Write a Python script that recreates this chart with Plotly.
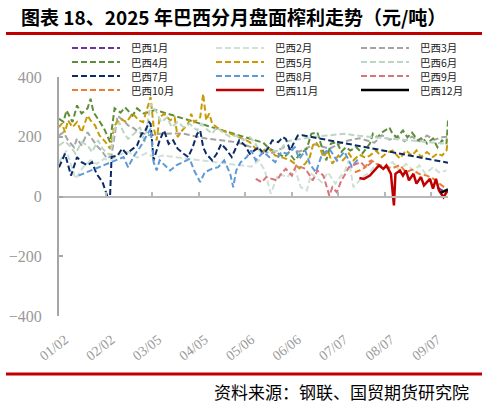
import pandas as pd
import plotly.graph_objects as go

# ---------------- data ----------------
tick_labels = ["01/02", "02/02", "03/05", "04/05", "05/06", "06/06", "07/07", "08/07", "09/07"]
series_names = ["巴西1月", "巴西2月", "巴西3月", "巴西4月", "巴西5月", "巴西6月",
                "巴西7月", "巴西8月", "巴西9月", "巴西10月", "巴西11月", "巴西12月"]

# day offsets from 2025-01-02 and margin values (元/吨)
d_jan = [252, 255, 258]
v_jan = [30, 22, 12]

d_feb = [0, 5, 11, 16, 21, 25, 30, 34, 40, 46, 52, 58, 64, 69, 128, 133, 137, 141, 146, 152, 157, 161, 165,
         168, 171, 175, 179, 184, 187, 190, 193, 196, 202, 207, 211, 215, 218, 222, 227, 231, 236, 240, 244,
         249, 253, 258]
v_feb = [115, 154, 59, 98, 121, 109, 126, 121, 140, 150, 130, 145, 130, 137, 100, 121, 87, 9, 76, 65, 93, 31, 20,
         76, 65, 48, 81, 43, 65, 81, 121, 31, 65, 81, 109, 98, 98, 115, 87, 109, 87, 104, 76,
         98, 81, 87]

d_mar = [0, 3, 6, 10, 12, 15, 19, 22, 25, 29, 32, 35, 39, 41, 43, 46, 50, 53, 56, 61, 67, 82, 98, 118, 141,
         150, 160, 170, 180, 190, 200, 210, 215, 220, 225, 230, 235, 240, 245, 250, 255, 259]
v_mar = [204, 215, 188, 165, 194, 171, 215, 194, 171, 149, 127, 137, 270, 262, 255, 238, 228, 215, 211, 204, 210,
         211, 194, 182, 144, 165, 150, 175, 160, 185, 195, 180, 205, 190, 200, 185, 200, 185, 204, 190, 198, 200]

d_apr = [0, 3, 5, 9, 12, 15, 19, 21, 23, 26, 30, 34, 37, 41, 44, 49, 52, 56, 60, 64, 69, 136, 140, 144, 150,
         153, 157, 161, 165, 168, 172, 175, 178, 181, 185, 188, 191, 194, 198, 202, 207, 209, 212, 215, 220,
         222, 225, 229, 232, 235, 239, 242, 245, 249, 252, 255, 258, 259]
v_apr = [260, 250, 288, 249, 305, 278, 295, 327, 282, 260, 228, 182, 295, 281, 298, 271, 295, 278, 282, 290,
         282, 180, 160, 150, 131, 147, 121, 144, 160, 210, 215, 165, 121, 177, 182, 150, 165, 154, 165, 144,
         177, 210, 198, 214, 231, 210, 198, 221, 198, 214, 188, 198, 177, 194, 165, 188, 177, 255]

d_may = [0, 2, 4, 6, 9, 12, 15, 19, 21, 24, 27, 31, 34, 37, 41, 45, 49, 53, 56, 60, 61, 63, 65, 67, 70, 74,
         77, 79, 82, 86, 88, 90, 94, 96, 98, 100, 102, 105, 108, 112, 118, 122, 127, 131, 135, 139, 144, 148,
         154, 157, 160, 164, 167, 169, 171, 174, 176, 179, 182, 186, 189, 193, 196, 200, 204, 207, 211, 215,
         218, 222, 227, 231, 235, 238, 241, 245, 249, 252, 255, 258, 259]
v_may = [232, 245, 215, 255, 232, 249, 215, 271, 255, 238, 204, 182, 160, 238, 260, 249, 278, 255, 249, 316,
         333, 232, 188, 265, 277, 255, 265, 199, 221, 244, 277, 249, 265, 344, 255, 278, 244, 232, 221, 215,
         204, 194, 182, 160, 149, 165, 137, 132, 121, 110, 94, 110, 132, 171, 182, 160, 132, 154, 110, 137,
         121, 144, 121, 140, 130, 137, 154, 132, 145, 154, 127, 154, 137, 154, 132, 149, 132, 144, 137, 154, 188]

d_jun = [0, 4, 8, 11, 15, 19, 22, 26, 29, 34, 37, 40, 43, 46, 50, 54, 57, 61, 65, 68, 72, 75, 79, 83, 87, 92,
         95, 98, 102, 105, 109, 114, 118, 123, 127, 130, 135, 139, 144, 148, 151, 155, 170, 190, 200, 259]
v_jun = [171, 185, 165, 143, 182, 171, 149, 188, 160, 137, 227, 249, 215, 193, 210, 232, 182, 311, 282, 249,
         265, 232, 249, 232, 243, 221, 243, 227, 210, 232, 215, 199, 204, 188, 199, 182, 143, 165, 150, 160,
         182, 188, 200, 210, 203, 176]

d_jul = [0, 2, 4, 8, 12, 15, 19, 22, 25, 29, 32, 34, 35, 39, 42, 45, 49, 52, 55, 57, 60, 61, 63, 67, 70, 73,
         76, 79, 83, 86, 89, 92, 94, 96, 98, 102, 105, 108, 111, 115, 117, 120, 124, 127, 133, 136, 139, 142,
         146, 149, 151, 154, 156, 159, 162, 259]
v_jul = [98, 121, 143, 70, 132, 115, 104, 115, 76, 48, 3, 2, 132, 137, 160, 143, 160, 171, 210, 215, 249, 243,
         121, 188, 221, 176, 188, 160, 143, 132, 165, 210, 221, 165, 143, 121, 143, 176, 160, 132, 154, 188,
         170, 143, 165, 143, 160, 188, 182, 199, 193, 154, 176, 204, 205, 113]

d_aug = [13, 32, 35, 43, 46, 50, 54, 57, 61, 63, 65, 67, 74, 78, 83, 87, 90, 94, 97, 102, 106, 110, 114, 116,
         118, 121, 125, 128, 131, 136, 144, 148, 152, 157, 160, 164, 167, 171, 175, 180, 185, 190, 195, 200]
v_aug = [70, 109, 115, 132, 98, 137, 165, 193, 227, 115, 87, 121, 87, 104, 115, 126, 87, 48, 81, 93, 98, 121,
         76, 31, 87, 115, 132, 154, 121, 149, 115, 149, 143, 165, 126, 154, 109, 81, 140, 160, 120, 150, 100, 130]

d_sep = [131, 135, 138, 145, 148, 151, 155, 158, 164, 167, 169, 172, 176, 180, 182, 185, 188, 190, 193, 198,
         201, 204, 207, 209]
v_sep = [59, 48, 65, 54, 76, 93, 70, 104, 93, 70, 54, 87, 70, 3, 31, 14, 54, 70, 98, 109, 115, 98, 109, 121]

d_oct = [197, 200, 204, 206, 208, 211, 214, 218, 222, 227, 231, 235, 240, 245, 249, 253, 258]
v_oct = [81, 87, 98, 115, 121, 110, 105, 98, 95, 105, 81, 90, 75, 70, 60, 45, 25]

d_nov = [200, 203, 207, 210, 213, 216, 218, 221, 223, 224, 227, 229, 231, 233, 236, 238, 241, 243, 247, 249,
         251, 253, 256, 258, 259]
v_nov = [62, 59, 70, 87, 104, 93, 104, 76, -30, 76, 87, 70, 87, 54, 76, 43, 65, 37, 59, 26, 59, 20, -2, 14, 20]

d_dec = [254, 257, 259]
v_dec = [12, 20, 24]

all_days = [d_jan, d_feb, d_mar, d_apr, d_may, d_jun, d_jul, d_aug, d_sep, d_oct, d_nov, d_dec]
all_vals = [v_jan, v_feb, v_mar, v_apr, v_may, v_jun, v_jul, v_aug, v_sep, v_oct, v_nov, v_dec]

# ---------------- styles ----------------
colors = ["#7030a0", "#cfe0d4", "#a5a5a5", "#5e8e3a", "#c99a06", "#bcd6c4",
          "#0b2a66", "#5f9ad8", "#d9747a", "#ed7d31", "#c00000", "#000000"]
DASH = "6px,3px"
dashes = [DASH] * 10 + ["solid", "solid"]
widths = [2] * 10 + [2.5, 2.5]

base = pd.Timestamp("2025-01-02")
x_start = base
x_end = base + pd.Timedelta(days=259)
tickvals = [pd.Timestamp("2025-" + t.replace("/", "-")) for t in tick_labels]

W, H = 487, 407
L, R, T, B = 59, 39, 77, 91
PW, PH = W - L - R, H - T - B


def px(x):
    return (x - L) / PW


def py(y):
    return (H - B - y) / PH


fig = go.Figure()
for name, ds, vs, c, dsh, w in zip(series_names, all_days, all_vals, colors, dashes, widths):
    fig.add_trace(go.Scatter(
        x=[base + pd.Timedelta(days=d) for d in ds], y=vs, mode="lines", name=name,
        line=dict(color=c, width=w, dash=dsh), showlegend=False, connectgaps=True))

# dummy trace to bind the zero-line axis
fig.add_trace(go.Scatter(x=[], y=[], xaxis="x2", showlegend=False, hoverinfo="skip"))

axis_gray = "#a6a6a6"
label_gray = "#999999"

fig.update_layout(
    width=W, height=H, margin=dict(l=L, r=R, t=T, b=B, autoexpand=False),
    paper_bgcolor="white", plot_bgcolor="white",
    xaxis=dict(type="date", range=[x_start, x_end], tickvals=tickvals, ticktext=tick_labels,
               tickangle=-38, showline=False, ticks="", showgrid=False, zeroline=False, automargin=False,
               tickfont=dict(family="Liberation Serif", size=14, color=label_gray),
               ticklabelstandoff=12, ticklabelshift=6),
    xaxis2=dict(type="date", range=[x_start, x_end], overlaying="x", anchor="free", position=0.5,
                tickvals=tickvals, showticklabels=False, showline=True, linecolor="#b8b8b8", linewidth=2,
                ticks="inside", ticklen=4, tickwidth=1.5, tickcolor="#b8b8b8", showgrid=False,
                zeroline=False, automargin=False),
    yaxis=dict(range=[-400, 400], tickvals=[-400, -200, 0, 200, 400], showline=True, linecolor=axis_gray,
               linewidth=2, ticks="inside", ticklen=4, tickwidth=2, tickcolor=axis_gray, showgrid=False,
               zeroline=False, automargin=False,
               tickfont=dict(family="Liberation Serif", size=16, color=label_gray), ticklabelstandoff=12),
)

shapes = []
annotations = []
# title and frame lines
annotations.append(dict(text="<b>图表 18、2025 年巴西分月盘面榨利走势（元/吨）</b>", xref="paper", yref="paper",
                        x=px(19), y=py(16), xanchor="left", yanchor="middle", showarrow=False,
                        font=dict(family="Noto Sans CJK SC", size=19, color="#000000")))
shapes.append(dict(type="line", xref="paper", yref="paper", x0=px(6), x1=px(482), y0=py(33.5), y1=py(33.5),
                   line=dict(color="#c00000", width=3)))
shapes.append(dict(type="line", xref="paper", yref="paper", x0=px(6), x1=px(482), y0=py(374), y1=py(374),
                   line=dict(color="#c00000", width=3)))
annotations.append(dict(text="资料来源：钢联、国贸期货研究院", xref="paper", yref="paper",
                        x=px(471), y=py(391), xanchor="right", yanchor="middle", showarrow=False,
                        font=dict(family="Noto Sans CJK SC", size=17, color="#000000")))

# legend (3 columns x 4 rows)
col_x = [72, 216, 361]
row_y = [48, 62, 76, 90]
for i, (name, c, dsh, w) in enumerate(zip(series_names, colors, dashes, widths)):
    r, k = divmod(i, 3)
    x0 = col_x[k]
    y0 = row_y[r]
    shapes.append(dict(type="line", xref="paper", yref="paper", x0=px(x0), x1=px(x0 + 48),
                       y0=py(y0), y1=py(y0), line=dict(color=c, width=w, dash=dsh)))
    annotations.append(dict(text=name, xref="paper", yref="paper", x=px(x0 + 57), y=py(y0),
                            xanchor="left", yanchor="middle", showarrow=False, height=13,
                            font=dict(family="Noto Sans CJK SC", size=10.5, color="#222222")))

fig.update_layout(shapes=shapes, annotations=annotations)
fig.write_html("out.html", config={"displayModeBar": False},
               post_script="document.body.style.margin='0';document.body.style.padding='0';")
